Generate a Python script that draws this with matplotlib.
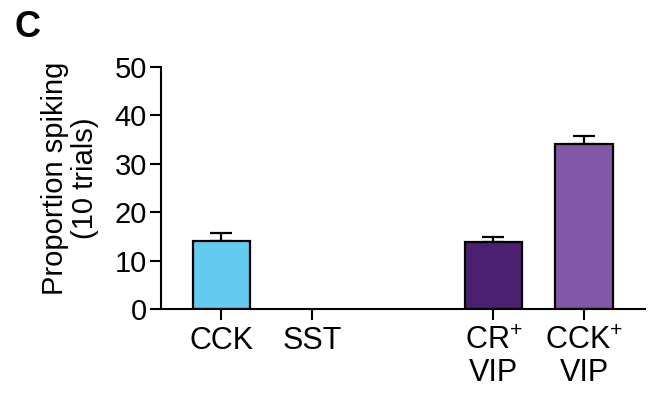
import matplotlib
matplotlib.use("Agg")
import matplotlib.pyplot as plt

plt.rcParams['font.family'] = ['Liberation Sans', 'DejaVu Sans']
plt.rcParams['mathtext.fontset'] = 'custom'
plt.rcParams['mathtext.rm'] = 'Liberation Sans'
plt.rcParams['mathtext.default'] = 'regular'

# data
groups = ["CCK", "SST", "CR$^{+}$\nVIP", "CCK$^{+}$\nVIP"]
positions = [0, 1, 3, 4]
means = [14.0, 0.0, 13.8, 34.1]
sems = [1.6, 0.0, 1.1, 1.7]
colors = ["#62CBEF", "#62CBEF", "#4B2070", "#8257A8"]

fig = plt.figure(figsize=(6.48, 3.95), dpi=100)
ax = fig.add_axes([0.248, 0.218, 0.747, 0.612])

# SST has no spiking: no visible bar
edge_w = [1.6 if m > 0 else 0 for m in means]
ax.bar(positions, means, width=0.63, color=colors, edgecolor="black", linewidth=edge_w, zorder=2)
err_pos = [p for p, s in zip(positions, sems) if s > 0]
err_mean = [m for m, s in zip(means, sems) if s > 0]
err_sem = [s for s in sems if s > 0]
ax.errorbar(err_pos, err_mean, yerr=[[0] * len(err_sem), err_sem], fmt="none", ecolor="black",
            elinewidth=1.6, capsize=8, capthick=1.6, zorder=1)

ax.set_xlim(-0.67, 4.67)
ax.set_ylim(0, 50)
ax.set_yticks([0, 10, 20, 30, 40, 50])
ax.set_xticks(positions)
ax.set_xticklabels(groups, fontsize=22, linespacing=1.1)
ax.tick_params(axis="y", labelsize=21, length=8, width=1.5, pad=2)
ax.tick_params(axis="x", length=8, width=1.5, pad=4)

for s in ["top", "right"]:
    ax.spines[s].set_visible(False)
for s in ["left", "bottom"]:
    ax.spines[s].set_linewidth(1.5)

ax.set_ylabel("Proportion spiking\n(10 trials)", fontsize=21, linespacing=1.12, labelpad=11)
ax.yaxis.label.set_y(0.54)

fig.text(0.023, 0.975, "C", fontsize=26, fontweight="bold", va="top", ha="left")

fig.savefig("out.png", dpi=100)
